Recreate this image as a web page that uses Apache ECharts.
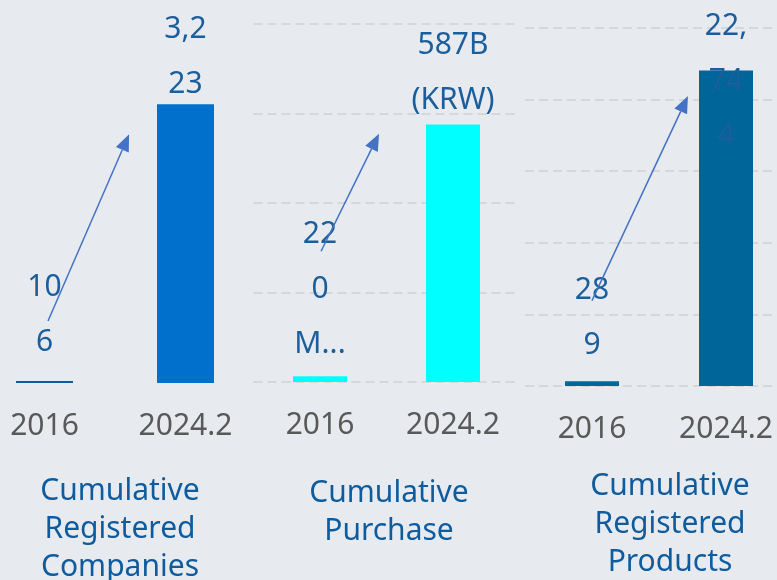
<!DOCTYPE html>
<html>
<head>
<meta charset="utf-8">
<title>Cumulative figures</title>
<script src="https://cdn.jsdelivr.net/npm/echarts@6/dist/echarts.min.js"></script>
<style>
    html, body { margin: 0; padding: 0; background: #E7EAEF; }
    #echart { width: 777px; height: 580px; }
</style>
</head>
<body>
<div id="echart"></div>
<script>
// categories on every small chart
var categories = ['2016', '2024.2'];

// bar heights as drawn (hidden axes)
var companies = [23, 3223];
var purchase = [13, 587];        // billion KRW
var products = [350, 22744];

// value labels, wrapped the way they show on the slide
var companiesLabels = ['10\n6', '3,2\n23'];
var purchaseLabels = ['22\n0\nM...', '587B\n(KRW)'];
var productsLabels = ['28\n9', '22,\n74\n4'];

var titles = ['Cumulative\nRegistered\nCompanies', 'Cumulative\nPurchase', 'Cumulative\nRegistered\nProducts'];

// arrows: [t between bar centers, value] -> [t, value]
var companiesArrow = [[0.025, 716], [0.6, 2876]];
var purchaseArrow = [[0.008, 298], [0.444, 566]];
var productsArrow = [[0, 6150], [0.716, 20900]];

var fontName = '"Noto Sans", "Open Sans", sans-serif';
var labelColor = '#1B5E9C';

var panels = [
    {grid: {left: -26, top: 24, width: 282, height: 359}, max: 4150, interval: 4150, split: false,
        values: companies, labels: companiesLabels, colors: ['#0E5CA0', '#0070CD'], barWidth: 57,
        dist: [11, -8], title: {left: 120, top: 472}, arrow: companiesArrow},
    {grid: {left: 253.5, top: 24, width: 266, height: 358}, max: 816, interval: 204, split: true,
        values: purchase, labels: purchaseLabels, colors: ['#00FFFF', '#00FFFF'], barWidth: 54,
        dist: [4, -3], title: {left: 389, top: 474}, arrow: purchaseArrow},
    {grid: {left: 525, top: 28, width: 268, height: 358}, max: 25800, interval: 5160, split: true,
        values: products, labels: productsLabels, colors: ['#006699', '#006699'], barWidth: 54,
        dist: [8, -94], title: {left: 670, top: 467}, arrow: productsArrow}
];

var option = {
    backgroundColor: '#E7EAEF',
    animation: false,
    title: [],
    grid: [],
    xAxis: [],
    yAxis: [],
    series: []
};

var $each = function (arr, fn) { for (var i = 0; i < arr.length; i++) fn(i, arr[i]); };

$each(panels, function (i, p) {
    var g = p.grid;
    option.grid.push({left: g.left, top: g.top, width: g.width, height: g.height, outerBoundsMode: 'none'});
    option.title.push({
        text: titles[i],
        left: p.title.left,
        top: p.title.top,
        padding: 0,
        textAlign: 'center',
        textStyle: {fontFamily: fontName, fontSize: 30, fontWeight: 'normal', color: '#0E5C9E', lineHeight: 38}
    });
    option.xAxis.push({
        type: 'category',
        gridIndex: i,
        data: categories,
        axisLine: {show: false},
        axisTick: {show: false},
        axisLabel: {fontFamily: fontName, fontSize: 30, color: '#595959', margin: 28}
    });
    option.yAxis.push({
        type: 'value',
        gridIndex: i,
        min: 0,
        max: p.max,
        interval: p.interval,
        axisLabel: {show: false},
        axisLine: {show: false},
        axisTick: {show: false},
        splitLine: {show: p.split, lineStyle: {color: '#D6D7D9', width: 2, type: [9, 5]}}
    });
    var data = [];
    $each(p.values, function (j, v) {
        data.push({
            value: v,
            itemStyle: {color: p.colors[j]},
            label: {distance: p.dist[j]}
        });
    });
    option.series.push({
        type: 'bar',
        xAxisIndex: i,
        yAxisIndex: i,
        barWidth: p.barWidth,
        data: data,
        label: {
            show: true,
            position: 'top',
            fontFamily: fontName,
            fontSize: 30,
            lineHeight: 55,
            color: labelColor,
            formatter: function (prm) { return p.labels[prm.dataIndex]; }
        }
    });
});

var myChart = echarts.init(document.getElementById('echart'));
myChart.setOption(option);

// arrows from the 2016 bar towards the 2024.2 bar
function toPixel(gridIndex, pt) {
    var a = myChart.convertToPixel({gridIndex: gridIndex}, [0, pt[1]]);
    var b = myChart.convertToPixel({gridIndex: gridIndex}, [1, pt[1]]);
    return [a[0] + (b[0] - a[0]) * pt[0], a[1]];
}

var graphics = [];
$each(panels, function (i, p) {
    var s = toPixel(i, p.arrow[0]);
    var e = toPixel(i, p.arrow[1]);
    var dx = e[0] - s[0], dy = e[1] - s[1];
    var len = Math.sqrt(dx * dx + dy * dy);
    var ux = dx / len, uy = dy / len;
    var head = 17, half = 7;
    var bx = e[0] - ux * head, by = e[1] - uy * head;
    graphics.push({
        type: 'line',
        z: 100,
        shape: {x1: s[0], y1: s[1], x2: bx, y2: by},
        style: {stroke: '#4472C4', lineWidth: 1.5}
    });
    graphics.push({
        type: 'polygon',
        z: 100,
        shape: {points: [[e[0], e[1]], [bx - uy * half, by + ux * half], [bx + uy * half, by - ux * half]]},
        style: {fill: '#4472C4'}
    });
});
myChart.setOption({graphic: graphics});
</script>
</body>
</html>
